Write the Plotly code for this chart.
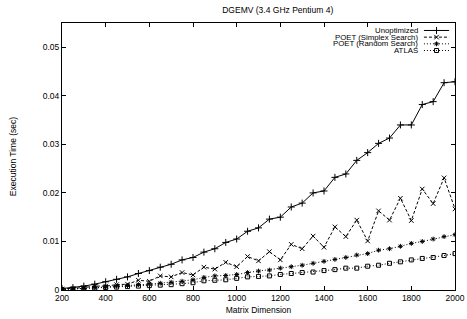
import plotly.graph_objects as go

sizes = list(range(200, 2001, 50))
unoptimized = [0.0003, 0.0005, 0.0008, 0.0012, 0.0017, 0.0022, 0.0027, 0.0034, 0.0040, 0.0047,
               0.0053, 0.0062, 0.0067, 0.0078, 0.0085, 0.0098, 0.0105, 0.0121, 0.0128, 0.0146,
               0.0150, 0.0171, 0.0179, 0.0200, 0.0204, 0.0232, 0.0239, 0.0267, 0.0283, 0.0302,
               0.0313, 0.0340, 0.0340, 0.0382, 0.0388, 0.0427, 0.0429]
simplex = [0.0002, 0.0003, 0.0005, 0.0008, 0.0008, 0.0011, 0.0012, 0.0020, 0.0018, 0.0029,
           0.0027, 0.0036, 0.0031, 0.0047, 0.0043, 0.0057, 0.0048, 0.0069, 0.0060, 0.0079,
           0.0062, 0.0094, 0.0085, 0.0111, 0.0088, 0.0130, 0.0110, 0.0144, 0.0101, 0.0163,
           0.0144, 0.0189, 0.0143, 0.0208, 0.0178, 0.0231, 0.0167]
random_search = [0.0001, 0.0002, 0.0003, 0.0005, 0.0006, 0.0008, 0.0009, 0.0011, 0.0012, 0.0014,
                 0.0016, 0.0018, 0.0021, 0.0026, 0.0029, 0.0030, 0.0032, 0.0036, 0.0039, 0.0041,
                 0.0045, 0.0048, 0.0051, 0.0055, 0.0059, 0.0063, 0.0067, 0.0072, 0.0075, 0.0082,
                 0.0085, 0.0090, 0.0096, 0.0100, 0.0105, 0.0110, 0.0114]
atlas = [0.0001, 0.0002, 0.0003, 0.0004, 0.0005, 0.0006, 0.0007, 0.0008, 0.0009, 0.0010,
         0.0011, 0.0013, 0.0015, 0.0019, 0.0020, 0.0021, 0.0024, 0.0027, 0.0028, 0.0029,
         0.0032, 0.0034, 0.0036, 0.0037, 0.0040, 0.0042, 0.0045, 0.0045, 0.0049, 0.0051,
         0.0055, 0.0058, 0.0062, 0.0065, 0.0067, 0.0071, 0.0075]

series_names = ["Unoptimized", "POET (Simplex Search)", "POET (Random Search)", "ATLAS"]
series_values = [unoptimized, simplex, random_search, atlas]
dashes = ["solid", "3px,2px", "1px,2px", "1px,2px"]
symbols = ["cross-thin-open", "x-thin-open", "asterisk-open", "square-open"]
msizes = [5, 4.5, 4, 4]

x_ticks = list(range(200, 2001, 200))
y_ticks = [0, 0.01, 0.02, 0.03, 0.04, 0.05]
y_tick_labels = ["0", "0.01", "0.02", "0.03", "0.04", "0.05"]

FONT = "Liberation Sans, Arial, sans-serif"
fig = go.Figure()

for name, vals, d, s, ms in zip(series_names, series_values, dashes, symbols, msizes):
    fig.add_trace(go.Scatter(
        x=sizes, y=vals, mode="lines+markers", name=name, showlegend=False,
        line=dict(color="black", width=1, dash=d),
        marker=dict(symbol=s, size=ms, color="black", line=dict(color="black", width=1)),
    ))

# manual gnuplot-style legend: right-aligned text with sample to the right
legend_y = [0.972, 0.947, 0.922, 0.897]
for name, d, s, ms, ly in zip(series_names, dashes, symbols, msizes, legend_y):
    fig.add_trace(go.Scatter(
        x=[0.921, 0.985], y=[ly, ly], xaxis="x2", yaxis="y2", mode="lines",
        line=dict(color="black", width=1, dash=d), showlegend=False, hoverinfo="skip"))
    fig.add_trace(go.Scatter(
        x=[0.953], y=[ly], xaxis="x2", yaxis="y2", mode="markers",
        marker=dict(symbol=s, size=ms, color="black", line=dict(color="black", width=1)),
        showlegend=False, hoverinfo="skip"))
    fig.add_annotation(x=0.912, y=ly, xref="x2", yref="y2", text=name, showarrow=False,
                       xanchor="right", yanchor="middle", font=dict(size=7.8, color="black", family=FONT))

fig.update_layout(
    width=467, height=319,
    margin=dict(l=62, r=12, t=23, b=29, autoexpand=False),
    paper_bgcolor="white", plot_bgcolor="white",
    font=dict(family=FONT, size=8.5, color="black"),
    title=dict(text="DGEMV (3.4 GHz Pentium 4)", x=0.549, xanchor="center", xref="paper",
               y=0.968, yanchor="middle", yref="container", automargin=False,
               font=dict(size=8.5, family=FONT)),
    xaxis=dict(range=[200, 2000], tickvals=x_ticks, ticks="inside", ticklen=4, tickwidth=1,
               tickcolor="black", showline=True, linecolor="black", linewidth=1, mirror="ticks",
               showgrid=False, zeroline=False, automargin=False,
               title=dict(text="Matrix Dimension", standoff=4, font=dict(size=8.5))),
    yaxis=dict(range=[0, 0.055], tickvals=y_ticks, ticktext=y_tick_labels, ticks="inside",
               ticklen=4, tickwidth=1, tickcolor="black", showline=True, linecolor="black",
               linewidth=1, mirror="ticks", showgrid=False, zeroline=False, automargin=False,
               title=dict(text="Execution Time (sec)", standoff=24, font=dict(size=8.5))),
    xaxis2=dict(range=[0, 1], overlaying="x", visible=False, fixedrange=True),
    yaxis2=dict(range=[0, 1], overlaying="y", visible=False, fixedrange=True),
)

fig.write_html("out.html", config={"displayModeBar": False},
               post_script="document.body.style.margin='0';document.body.style.padding='0';")
